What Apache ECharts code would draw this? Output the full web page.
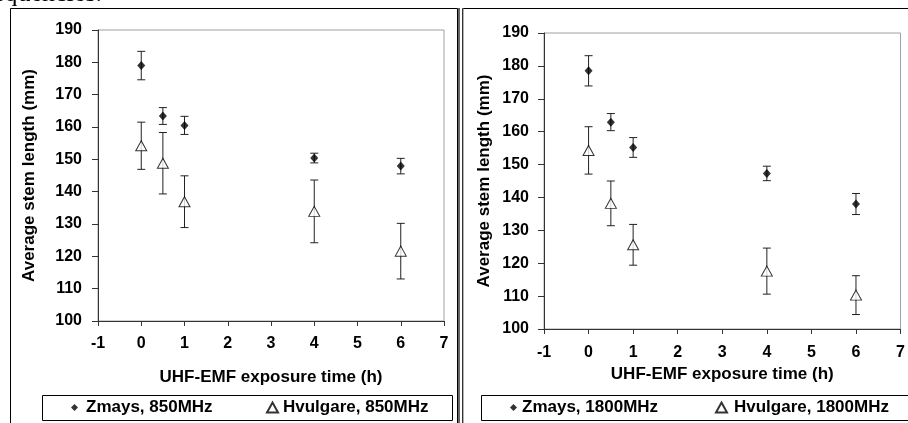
<!DOCTYPE html>
<html>
<head>
<meta charset="utf-8">
<script src="https://cdn.jsdelivr.net/npm/echarts@6/dist/echarts.min.js"></script>
<style>
html,body{margin:0;padding:0;background:#fff;}
#c{width:908px;height:423px;}
</style>
</head>
<body>
<div id="c"></div>
<script>
// ---- data ----
const times = [0, 0.5, 1, 4, 6];
const zmays850 = [179.0, 163.4, 160.5, 150.4, 147.9];
const zmays850Err = [4.4, 2.6, 2.8, 1.5, 2.4];
const hvul850 = [154.2, 148.8, 136.9, 133.9, 121.6];
const hvul850Err = [7.3, 9.5, 8.0, 9.7, 8.6];
const zmays1800 = [178.5, 162.9, 155.2, 147.3, 138.0];
const zmays1800Err = [4.6, 2.6, 3.0, 2.2, 3.2];
const hvul1800 = [154.3, 138.2, 125.6, 117.6, 110.3];
const hvul1800Err = [7.2, 6.8, 6.2, 7.0, 5.9];
const xTickLabels = ['-1','0','1','2','3','4','5','6','7'];
const yTickLabels = ['100','110','120','130','140','150','160','170','180','190'];
const seriesNames = ['Zmays, 850MHz','Hvulgare, 850MHz','Zmays, 1800MHz','Hvulgare, 1800MHz'];
const xTitle = 'UHF-EMF exposure time (h)';
const yTitle = 'Average stem length (mm)';
const captionFragment = 'equencies.';

const FONT = "'Liberation Sans', Arial, sans-serif";
const AX = '#333';

function pts(vals){ return times.map((t,i)=>[t, vals[i]]); }
function errs(vals, e){ return times.map((t,i)=>[t, vals[i]-e[i], vals[i]+e[i]]); }

function errSeries(idx, vals, e){
  return {
    type:'custom', xAxisIndex:idx, yAxisIndex:idx, z:2, silent:true,
    data: errs(vals,e),
    renderItem(params, api){
      const x = api.value(0);
      const lo = api.coord([x, api.value(1)]);
      const hi = api.coord([x, api.value(2)]);
      const w = 4;
      const st = {stroke:'#222', lineWidth:1};
      return {type:'group', children:[
        {type:'line', shape:{x1:lo[0],y1:lo[1],x2:hi[0],y2:hi[1]}, style:st},
        {type:'line', shape:{x1:lo[0]-w,y1:lo[1],x2:lo[0]+w,y2:lo[1]}, style:st},
        {type:'line', shape:{x1:hi[0]-w,y1:hi[1],x2:hi[0]+w,y2:hi[1]}, style:st}
      ]};
    }
  };
}

function xAx(idx, gap, margin){
  return {
    type:'value', gridIndex:idx, min:-1, max:7, interval:1,
    name:xTitle, nameLocation:'middle', nameGap:gap,
    nameTextStyle:{fontFamily:FONT, fontWeight:'bold', fontSize:17, color:'#000'},
    axisLine:{show:true, onZero:false, lineStyle:{color:AX, width:1}},
    axisTick:{show:true, length:5, lineStyle:{color:AX}},
    splitLine:{show:false},
    axisLabel:{margin:margin, fontFamily:FONT, fontWeight:'bold', fontSize:16, color:'#000',
      formatter:(v)=>xTickLabels[Math.round(v)+1]}
  };
}
function yAx(idx, gap, margin){
  return {
    type:'value', gridIndex:idx, min:100, max:190, interval:10,
    name:yTitle, nameLocation:'middle', nameGap:gap, nameRotate:90,
    nameTextStyle:{fontFamily:FONT, fontWeight:'bold', fontSize:17, color:'#000'},
    axisLine:{show:true, onZero:false, lineStyle:{color:AX, width:1}},
    axisTick:{show:true, length:6, lineStyle:{color:AX}},
    splitLine:{show:false},
    axisLabel:{margin:margin, fontFamily:FONT, fontWeight:'bold', fontSize:16, color:'#000',
      formatter:(v)=>yTickLabels[Math.round((v-100)/10)]}
  };
}

function legendFor(name, left, w, h, padLeft){
  return {
    data:[name], left:left, top:399, padding:0, itemWidth:w, itemHeight:h,
    selectedMode:false,
    textStyle:{fontFamily:FONT, fontWeight:'bold', fontSize:17, color:'#000', padding:[0,0,0,padLeft]}
  };
}

const chart = echarts.init(document.getElementById('c'), null, {renderer:'canvas'});
chart.setOption({
  animation:false,
  backgroundColor:'#fff',
  grid:[
    {left:98, top:30, width:346, height:291, show:true, borderColor:'#a0a0a0', borderWidth:1, backgroundColor:'transparent'},
    {left:544, top:33, width:360, height:296, show:true, borderColor:'#a0a0a0', borderWidth:1, backgroundColor:'transparent'}
  ],
  xAxis:[xAx(0, 48, 15), xAx(1, 34, 16)],
  yAxis:[yAx(0, 60, 16), yAx(1, 51, 15)],
  legend:[
    legendFor(seriesNames[0], 71, 7, 7, 3),
    legendFor(seriesNames[1], 266, 11, 10, 0),
    legendFor(seriesNames[2], 510, 7, 7, 0),
    legendFor(seriesNames[3], 715, 11, 10, 2)
  ],
  graphic:[
    {type:'text', x:-7, y:-19, style:{text:captionFragment, font:"26px 'Liberation Serif', serif", fill:'#000'}},
    {type:'rect', shape:{x:10.5, y:8.5, width:447, height:420}, style:{fill:'none', stroke:'#000', lineWidth:1}},
    {type:'rect', shape:{x:462.5, y:8.5, width:450, height:420}, style:{fill:'none', stroke:'#000', lineWidth:1}},
    {type:'line', shape:{x1:459, y1:8, x2:459, y2:423}, style:{stroke:'#666', lineWidth:2}},
    {type:'line', shape:{x1:463, y1:8, x2:463, y2:423}, style:{stroke:'#666', lineWidth:1}},
    {type:'rect', shape:{x:42.5, y:395.5, width:410, height:25}, style:{fill:'none', stroke:'#000', lineWidth:1}},
    {type:'rect', shape:{x:481.5, y:395.5, width:430, height:25}, style:{fill:'none', stroke:'#000', lineWidth:1}}
  ],
  series:[
    errSeries(0, zmays850, zmays850Err),
    errSeries(0, hvul850, hvul850Err),
    errSeries(1, zmays1800, zmays1800Err),
    errSeries(1, hvul1800, hvul1800Err),
    {type:'scatter', name:seriesNames[0], xAxisIndex:0, yAxisIndex:0, z:5, symbol:'diamond', symbolSize:[8,9],
      itemStyle:{color:'#000'}, data:pts(zmays850)},
    {type:'scatter', name:seriesNames[1], xAxisIndex:0, yAxisIndex:0, z:5, symbol:'triangle', symbolSize:[11,10],
      itemStyle:{color:'#fff', borderColor:'#000', borderWidth:1}, data:pts(hvul850)},
    {type:'scatter', name:seriesNames[2], xAxisIndex:1, yAxisIndex:1, z:5, symbol:'diamond', symbolSize:[8,9],
      itemStyle:{color:'#000'}, data:pts(zmays1800)},
    {type:'scatter', name:seriesNames[3], xAxisIndex:1, yAxisIndex:1, z:5, symbol:'triangle', symbolSize:[11,10],
      itemStyle:{color:'#fff', borderColor:'#000', borderWidth:1}, data:pts(hvul1800)}
  ]
});
</script>
</body>
</html>
